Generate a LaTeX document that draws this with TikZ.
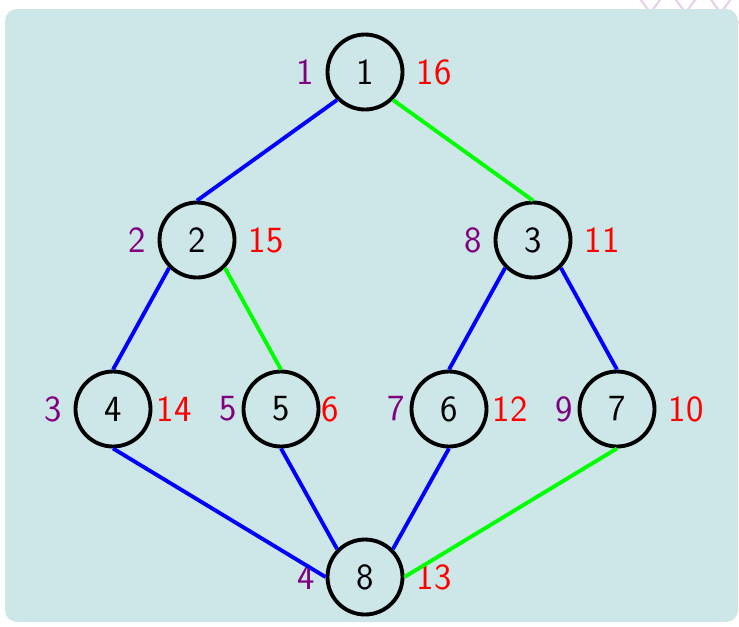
\documentclass[tikz,border=0pt]{standalone}
\usepackage{xcolor}
\usepackage{tikz}
\usetikzlibrary{positioning}
\definecolor{panel}{HTML}{CDE6E7}
\definecolor{prenum}{HTML}{800080}
\definecolor{postnum}{HTML}{FF0000}
\definecolor{treeedge}{HTML}{0000FF}
\definecolor{otheredge}{HTML}{00FF00}
\definecolor{wavepink}{HTML}{E8CDE8}

\begin{document}
\begin{tikzpicture}[
  node distance=3.36cm and 3.36cm, on grid,
  vtx/.style={circle, draw=black, line width=2.2pt, fill=panel,
              minimum size=1.5cm, inner sep=0pt,
              font=\fontsize{21}{24}\sffamily},
  pre/.style={text=prenum, inner sep=1pt, font=\fontsize{21}{24}\sffamily},
  post/.style={text=postnum, inner sep=1pt, font=\fontsize{21}{24}\sffamily},
  tedge/.style={line width=2.2pt, color=treeedge},
  oedge/.style={line width=2.2pt, color=otheredge},
]
\useasboundingbox (0,0) rectangle (14.78,-12.52);
% faint pattern peeking out above the panel
\foreach \s in {0,1}
  \draw[wavepink, line width=1.1pt]
    plot[domain=12.5:14.9, samples=90] (\x, {0.25 - 0.7*abs(sin(128*\x + 90*\s))});
\fill[panel, rounded corners=0.24cm] (0.10,-0.18) rectangle (14.76,-12.44);

\node[vtx] (n1) at (7.30,-1.44) {1};
\node[vtx, below left=3.36cm and 3.36cm of n1]  (n2) {2};
\node[vtx, below right=3.36cm and 3.36cm of n1] (n3) {3};
\node[vtx, below left=3.38cm and 1.68cm of n2]  (n4) {4};
\node[vtx, below right=3.38cm and 1.68cm of n2] (n5) {5};
\node[vtx, below left=3.38cm and 1.68cm of n3]  (n6) {6};
\node[vtx, below right=3.38cm and 1.68cm of n3] (n7) {7};
\node[vtx, below right=3.36cm and 1.68cm of n5] (n8) {8};

% pre / post numbers
\node[pre,  left=1.20cm of n1]  (p1) {1};
\node[post, right=1.38cm of n1] (q1) {16};
\node[pre,  left=1.20cm of n2]  (p2) {2};
\node[post, right=1.38cm of n2] (q2) {15};
\node[pre,  left=1.20cm of n3]  (p3) {8};
\node[post, right=1.38cm of n3] (q3) {11};
\node[pre,  left=1.20cm of n4]  (p4) {3};
\node[post, right=1.22cm of n4] (q4) {14};
\node[pre,  left=1.06cm of n5]  (p5) {5};
\node[post, right=0.98cm of n5] (q5) {6};
\node[pre,  left=1.06cm of n6]  (p6) {7};
\node[post, right=1.22cm of n6] (q6) {12};
\node[pre,  left=1.06cm of n7]  (p7) {9};
\node[post, right=1.38cm of n7] (q7) {10};
\node[pre,  left=1.18cm of n8]  (p8) {4};
\node[post, right=1.38cm of n8] (q8) {13};

\draw[tedge] (n1.south west) -- (n2.north);
\draw[oedge] (n1.south east) -- (n3.north);
\draw[tedge] (n2.south west) -- (n4.north);
\draw[oedge] (n2.south east) -- (n5.north);
\draw[tedge] (n3.south west) -- (n6.north);
\draw[tedge] (n3.south east) -- (n7.north);
\draw[tedge] (n4.south) -- (n8.west);
\draw[tedge] (n5.south) -- (n8.north west);
\draw[tedge] (n6.south) -- (n8.north east);
\draw[oedge] (n7.south) -- (n8.east);
\end{tikzpicture}
\end{document}
